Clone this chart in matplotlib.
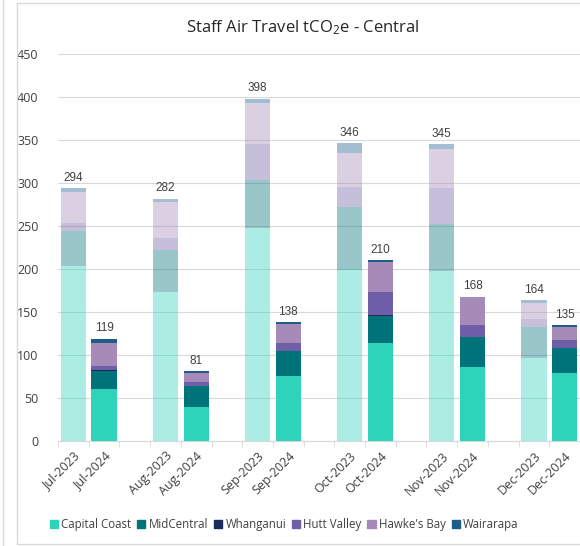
import numpy as np
import matplotlib
matplotlib.use("Agg")
import matplotlib.pyplot as plt
from matplotlib.patches import Rectangle
from matplotlib.lines import Line2D

plt.rcParams["font.family"] = ["Open Sans", "DejaVu Sans"]
plt.rcParams["mathtext.default"] = "regular"

# data
months = ["Jul", "Aug", "Sep", "Oct", "Nov", "Dec"]
regions = ["Capital Coast", "MidCentral", "Whanganui", "Hutt Valley", "Hawke's Bay", "Wairarapa"]
colors = ["#2dd4b9", "#00737a", "#1b2b5c", "#6f5fa8", "#a68bb8", "#1e5c8c"]

fy2023 = {
    "Capital Coast": [203, 173, 248, 199, 198, 97],
    "MidCentral":    [41, 49, 55, 73, 54, 36],
    "Whanganui":     [0, 0, 0, 0, 0, 0],
    "Hutt Valley":   [10, 14, 42, 23, 42, 9],
    "Hawke's Bay":   [35, 42, 48, 40, 46, 19],
    "Wairarapa":     [5, 4, 5, 11, 5, 3],
}
fy2024 = {
    "Capital Coast": [61, 40, 76, 114, 86, 79],
    "MidCentral":    [20, 24, 29, 31, 35, 29],
    "Whanganui":     [1, 0, 0, 1, 0, 0],
    "Hutt Valley":   [5, 5, 9, 27, 14, 9],
    "Hawke's Bay":   [27, 10, 22, 35, 32, 16],
    "Wairarapa":     [5, 2, 2, 2, 1, 2],
}

fig = plt.figure(figsize=(5.8, 5.46), dpi=100)
ax = fig.add_axes([0.1, 0.1923, 0.9, 0.7087])

x23 = np.arange(len(months)) * 3
x24 = x23 + 1
w = 0.82

for xs, data, alpha in [(x23, fy2023, 0.4), (x24, fy2024, 1.0)]:
    bottom = np.zeros(len(months))
    for r, c in zip(regions, colors):
        vals = np.array(data[r], dtype=float)
        ax.bar(xs, vals, w, bottom=bottom, color=c, alpha=alpha, linewidth=0, zorder=3)
        bottom += vals
    for x, t in zip(xs, bottom):
        ax.text(x, t + 5, f"{int(t)}", ha="center", va="bottom", fontsize=8.5,
                color="#404040", family=["Liberation Sans", "DejaVu Sans"])

ax.set_xlim(-0.5, 16.5)
ax.set_ylim(0, 450)
ax.set_yticks(np.arange(0, 451, 50))
ax.grid(axis="y", color="#d9d9d9", linewidth=0.8, zorder=0)

labels = []
pos = []
for m, a, b in zip(months, x23, x24):
    pos += [a, b]
    labels += [f"{m}-2023", f"{m}-2024"]
ax.set_xticks(pos)
ax.set_xticklabels(labels, rotation=45, ha="right", rotation_mode="anchor")
ax.set_xticks(np.arange(-0.5, 17, 1), minor=True)
ax.tick_params(axis="x", which="major", length=0, pad=6, labelsize=9, labelcolor="#404040")
ax.tick_params(axis="x", which="minor", length=4, color="#d9d9d9")
ax.tick_params(axis="y", length=0, pad=14, labelsize=9, labelcolor="#404040")

for s in ["top", "right", "left"]:
    ax.spines[s].set_visible(False)
ax.spines["bottom"].set_color("#d9d9d9")

fig.text(0.522, 0.95, "Staff Air Travel tCO$_2$e - Central", ha="center", va="center",
         fontsize=12, color="#262626")

handles = [Rectangle((0, 0), 1, 1, color=c) for c in colors]
fig.legend(handles, regions, loc="center", bbox_to_anchor=(0.49, 0.04), ncol=6,
           frameon=False, fontsize=8.3, handlelength=0.7, handleheight=0.7,
           handletextpad=0.3, columnspacing=0.5, labelcolor="#404040")

# chart frame
fig.patches.append(Rectangle((17 / 580, 2.5 / 546), 1.2, 541 / 546, transform=fig.transFigure,
                             fill=False, edgecolor="#d9d9d9", linewidth=1))
fig.lines.append(Line2D([2.5 / 580, 2.5 / 580], [0, 1], transform=fig.transFigure,
                        color="#d9d9d9", linewidth=1))

fig.savefig("out.png", dpi=100)
